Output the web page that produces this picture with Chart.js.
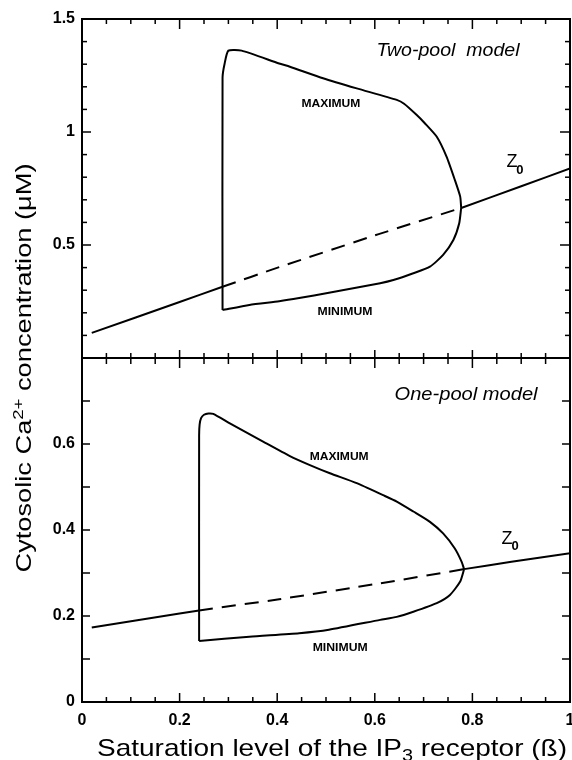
<!DOCTYPE html>
<html>
<head>
<meta charset="utf-8">
<script src="https://cdn.jsdelivr.net/npm/chart.js@4.4.1/dist/chart.umd.min.js"></script>
<style>
  html, body { margin: 0; background: #fff; }
  #wrap { position: relative; width: 572px; height: 760px; }
  canvas { position: absolute; left: 0; top: 0; }
</style>
</head>
<body>
<div id="wrap">
  <canvas id="twoPool" width="572" height="760"></canvas>
  <canvas id="onePool" width="572" height="760"></canvas>
</div>
<script>
// tick labels
const xTicks = [0, 0.2, 0.4, 0.6, 0.8, 1];
const twoPoolYTicks = [0.5, 1, 1.5];
const onePoolYTicks = [0, 0.2, 0.4, 0.6];

// two-pool model (top panel)
const twoPoolZ0Low = [{x: 0.02, y: 0.111}, {x: 0.2, y: 0.248}, {x: 0.288, y: 0.315}];
const twoPoolZ0Unstable = [{x: 0.288, y: 0.315}, {x: 0.404, y: 0.402}, {x: 0.608, y: 0.548}, {x: 0.777, y: 0.664}];
const twoPoolZ0High = [{x: 0.777, y: 0.664}, {x: 0.9, y: 0.76}, {x: 1.0, y: 0.839}];
const twoPoolMax = [
  {x: 0.288, y: 0.212}, {x: 0.288, y: 1.24}, {x: 0.292, y: 1.30}, {x: 0.300, y: 1.360},
  {x: 0.327, y: 1.360}, {x: 0.404, y: 1.303}, {x: 0.426, y: 1.289}, {x: 0.494, y: 1.238},
  {x: 0.563, y: 1.193}, {x: 0.645, y: 1.142}, {x: 0.660, y: 1.125}, {x: 0.686, y: 1.075},
  {x: 0.702, y: 1.040}, {x: 0.727, y: 0.979}, {x: 0.747, y: 0.891}, {x: 0.764, y: 0.788},
  {x: 0.775, y: 0.714}, {x: 0.777, y: 0.664}
];
const twoPoolMin = [
  {x: 0.288, y: 0.212}, {x: 0.343, y: 0.235}, {x: 0.404, y: 0.251}, {x: 0.445, y: 0.265},
  {x: 0.506, y: 0.289}, {x: 0.611, y: 0.331}, {x: 0.638, y: 0.345}, {x: 0.679, y: 0.375},
  {x: 0.713, y: 0.404}, {x: 0.740, y: 0.456}, {x: 0.761, y: 0.522}, {x: 0.773, y: 0.596},
  {x: 0.777, y: 0.664}
];

// one-pool model (bottom panel)
const onePoolZ0Low = [{x: 0.02, y: 0.173}, {x: 0.2, y: 0.206}, {x: 0.240, y: 0.213}];
const onePoolZ0Unstable = [{x: 0.240, y: 0.213}, {x: 0.404, y: 0.239}, {x: 0.611, y: 0.276}, {x: 0.783, y: 0.309}];
const onePoolZ0High = [{x: 0.783, y: 0.309}, {x: 0.88, y: 0.326}, {x: 1.0, y: 0.346}];
const onePoolMax = [
  {x: 0.240, y: 0.142}, {x: 0.240, y: 0.62}, {x: 0.241, y: 0.645}, {x: 0.244, y: 0.660},
  {x: 0.250, y: 0.668}, {x: 0.259, y: 0.671}, {x: 0.269, y: 0.670}, {x: 0.303, y: 0.648},
  {x: 0.372, y: 0.605}, {x: 0.426, y: 0.572}, {x: 0.467, y: 0.551}, {x: 0.508, y: 0.532},
  {x: 0.563, y: 0.509}, {x: 0.617, y: 0.481}, {x: 0.645, y: 0.466}, {x: 0.679, y: 0.443},
  {x: 0.713, y: 0.419}, {x: 0.740, y: 0.392}, {x: 0.764, y: 0.357}, {x: 0.778, y: 0.326},
  {x: 0.783, y: 0.309}
];
const onePoolMin = [
  {x: 0.240, y: 0.142}, {x: 0.343, y: 0.152}, {x: 0.445, y: 0.160}, {x: 0.506, y: 0.168},
  {x: 0.611, y: 0.191}, {x: 0.645, y: 0.198}, {x: 0.679, y: 0.210}, {x: 0.727, y: 0.230},
  {x: 0.754, y: 0.249}, {x: 0.775, y: 0.280}, {x: 0.783, y: 0.309}
];

const FONT = '"Liberation Sans", Arial, Helvetica, sans-serif';
Chart.defaults.font.family = FONT;
Chart.defaults.color = '#000';

function curve(data, dash) {
  return {
    data: data,
    borderColor: '#000',
    borderWidth: 2,
    borderDash: dash || [],
    pointRadius: 0,
    tension: 0.2,
    fill: false
  };
}

// box and inward ticks on all four sides
const frame = {
  id: 'frame',
  afterDatasetsDraw(chart, args, o) {
    const {ctx, chartArea: a, scales: {x, y}} = chart;
    const line = (x1, y1, x2, y2) => { ctx.beginPath(); ctx.moveTo(x1, y1); ctx.lineTo(x2, y2); ctx.stroke(); };
    ctx.save();
    ctx.strokeStyle = '#000';
    ctx.lineWidth = 1.5;
    const ny = Math.round(y.max / 0.1);
    for (let i = 1; i < ny; i++) {
      const v = i / 10;
      const major = Math.abs(v / o.yMajor - Math.round(v / o.yMajor)) < 1e-6;
      const py = y.getPixelForValue(v);
      line(a.left, py, a.left + o.left[major ? 1 : 0], py);
      line(a.right, py, a.right - o.right[major ? 1 : 0], py);
    }
    for (let i = 1; i < 20; i++) {
      const v = i / 20;
      const major = i % 4 === 0;
      const px = x.getPixelForValue(v);
      line(px, a.top, px, a.top + o.top[major ? 1 : 0]);
      line(px, a.bottom, px, a.bottom - o.bottom[major ? 1 : 0]);
    }
    ctx.lineWidth = 2;
    ctx.strokeRect(a.left, a.top, a.right - a.left, a.bottom - a.top);
    ctx.restore();
  }
};

// draw a run of text pieces centred on (cx, cy), stretched to a given width
function fitRun(ctx, parts, cx, cy, width) {
  let w = 0;
  parts.forEach(p => { ctx.font = p[1]; w += ctx.measureText(p[0]).width; });
  ctx.save();
  ctx.translate(cx, cy);
  ctx.scale(width / w, 1);
  let px = -w / 2;
  parts.forEach(p => { ctx.font = p[1]; ctx.fillText(p[0], px, p[2] || 0); px += ctx.measureText(p[0]).width; });
  ctx.restore();
}

// in-plot labels and axis titles
const notes = {
  id: 'notes',
  afterDatasetsDraw(chart, args, o) {
    const {ctx, scales: {x, y}} = chart;
    const at = p => [x.getPixelForValue(p[0]), y.getPixelForValue(p[1])];
    ctx.save();
    ctx.fillStyle = '#000';
    ctx.textBaseline = 'middle';
    ctx.textAlign = 'left';
    let p = at(o.modelAt);
    fitRun(ctx, [[o.model, 'italic 18px ' + FONT]], p[0], p[1], 143);
    p = at(o.maxAt);
    fitRun(ctx, [['MAXIMUM', 'bold 11px ' + FONT]], p[0], p[1], 59);
    p = at(o.minAt);
    fitRun(ctx, [['MINIMUM', 'bold 11px ' + FONT]], p[0], p[1], 55);
    p = at(o.zAt);
    ctx.textAlign = 'center';
    ctx.font = '18px ' + FONT;
    ctx.fillText('Z', p[0], p[1]);
    ctx.font = 'bold 13px ' + FONT;
    ctx.fillText('0', p[0] + 8, p[1] + 8);

    if (o.titles) {
      ctx.textAlign = 'left';
      ctx.textBaseline = 'alphabetic';
      const big = '24px ' + FONT, small = '17px ' + FONT;
      fitRun(ctx, [['Saturation level of the IP', big], ['3', small, 5], [' receptor (ß)', big]], 332, 756, 470);
      ctx.translate(31, 368);
      ctx.rotate(-Math.PI / 2);
      const yb = '22px ' + FONT, ys = '15px ' + FONT;
      fitRun(ctx, [['Cytosolic Ca', yb], ['2+', ys, -8], [' concentration (μM)', yb]], 0, 0, 409);
    }
    ctx.restore();
  }
};

function scalesFor(yMax, yTicks, showX) {
  return {
    x: {
      type: 'linear', min: 0, max: 1,
      grid: {display: false, drawTicks: false},
      border: {display: false},
      afterBuildTicks: s => { s.ticks = xTicks.map(v => ({value: v})); },
      ticks: {display: showX, padding: 9, maxRotation: 0, autoSkip: false,
        font: {size: 16, weight: 'bold'}, callback: v => String(v)},
      afterFit: s => { s.height = showX ? 58 : 0; s.paddingLeft = 0; s.paddingRight = 0; }
    },
    y: {
      type: 'linear', min: 0, max: yMax,
      grid: {display: false, drawTicks: false},
      border: {display: false},
      afterBuildTicks: s => { s.ticks = yTicks.map(v => ({value: v})); },
      ticks: {padding: 7, font: {size: 16, weight: 'bold'}, callback: v => String(v)},
      afterFit: s => { s.width = 82; s.paddingTop = 0; s.paddingBottom = 0; }
    }
  };
}

new Chart(document.getElementById('twoPool'), {
  type: 'line',
  data: {datasets: [
    curve(twoPoolZ0Low), curve(twoPoolZ0Unstable, [14, 9]), curve(twoPoolZ0High),
    curve(twoPoolMax), curve(twoPoolMin)
  ]},
  options: {
    responsive: false, animation: false,
    layout: {padding: {top: 19, right: 2, bottom: 402, left: 0}},
    plugins: {
      legend: {display: false}, tooltip: {enabled: false},
      frame: {yMajor: 0.5, left: [5, 9], right: [5, 10], top: [5, 10], bottom: [5, 8]},
      notes: {model: 'Two-pool  model', modelAt: [0.75, 1.358], maxAt: [0.51, 1.124],
        minAt: [0.539, 0.204], zAt: [0.881, 0.867]}
    },
    scales: scalesFor(1.5, twoPoolYTicks, false)
  },
  plugins: [frame, notes]
});

new Chart(document.getElementById('onePool'), {
  type: 'line',
  data: {datasets: [
    curve(onePoolZ0Low), curve(onePoolZ0Unstable, [14, 9]), curve(onePoolZ0High),
    curve(onePoolMax), curve(onePoolMin)
  ]},
  options: {
    responsive: false, animation: false,
    layout: {padding: {top: 358, right: 2, bottom: 0, left: 0}},
    plugins: {
      legend: {display: false}, tooltip: {enabled: false},
      frame: {yMajor: 0.2, left: [8, 8], right: [8, 8], top: [6, 10], bottom: [5, 9]},
      notes: {model: 'One-pool model', modelAt: [0.787, 0.714], maxAt: [0.527, 0.570],
        minAt: [0.529, 0.126], zAt: [0.871, 0.38], titles: true}
    },
    scales: scalesFor(0.8, onePoolYTicks, true)
  },
  plugins: [frame, notes]
});
</script>
</body>
</html>
